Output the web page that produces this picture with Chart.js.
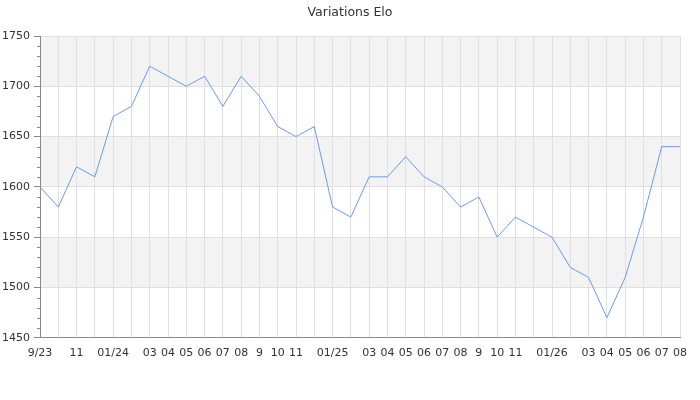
<!DOCTYPE html>
<html>
<head>
<meta charset="utf-8">
<script src="https://cdn.jsdelivr.net/npm/chart.js@4/dist/chart.umd.min.js"></script>
<style>
  html, body { margin: 0; padding: 0; background: #fff; }
  #wrap { width: 700px; height: 400px; }
</style>
</head>
<body>
<div id="wrap"><canvas id="myChart"></canvas></div>
<script>
// months from 9/23 to 08/26
const months = ["9/23","10/23","11/23","12/23","01/24","02/24","03/24","04/24","05/24","06/24","07/24","08/24",
  "09/24","10/24","11/24","12/24","01/25","02/25","03/25","04/25","05/25","06/25","07/25","08/25",
  "09/25","10/25","11/25","12/25","01/26","02/26","03/26","04/26","05/26","06/26","07/26","08/26"];
const tickLabels = ["9/23","","11","","01/24","","03","04","05","06","07","08",
  "9","10","11","","01/25","","03","04","05","06","07","08",
  "9","10","11","","01/26","","03","04","05","06","07","08"];
const elo = [1600,1580,1620,1610,1670,1680,1720,1710,1700,1710,1680,1710,
  1690,1660,1650,1660,1580,1570,1610,1610,1630,1610,1600,1580,
  1590,1550,1570,1560,1550,1520,1510,1470,1510,1570,1640,1640];
const yMin = 1450, yMax = 1750;
const grayBands = [[1500,1550],[1600,1650],[1700,1750]];

const bandsPlugin = {
  id: 'bands',
  beforeDraw(chart) {
    const {ctx, chartArea, scales} = chart;
    ctx.save();
    ctx.fillStyle = '#f3f3f3';
    grayBands.forEach(b => {
      const top = scales.y.getPixelForValue(b[1]);
      const bot = scales.y.getPixelForValue(b[0]);
      ctx.fillRect(chartArea.left, top, chartArea.right - chartArea.left, bot - top);
    });
    ctx.restore();
  },
  afterDraw(chart) {
    // short minor ticks on the y axis
    const {ctx, scales} = chart;
    const x = scales.y.right;
    ctx.save();
    ctx.strokeStyle = '#888';
    ctx.lineWidth = 1;
    for (let v = yMin; v <= yMax; v += 10) {
      if (v % 50 === 0) continue;
      const y = Math.round(scales.y.getPixelForValue(v)) + 0.5;
      ctx.beginPath();
      ctx.moveTo(x - 3, y);
      ctx.lineTo(x, y);
      ctx.stroke();
    }
    ctx.restore();
  }
};

new Chart(document.getElementById('myChart'), {
  type: 'line',
  data: {
    labels: months,
    datasets: [{
      label: 'Elo',
      data: elo,
      borderColor: '#6b9bf2',
      borderWidth: 1,
      pointRadius: 0,
      tension: 0,
      fill: false
    }]
  },
  options: {
    responsive: true,
    maintainAspectRatio: false,
    animation: false,
    layout: { padding: { left: 0, right: 0, top: 5, bottom: 31 } },
    plugins: {
      legend: { display: false },
      tooltip: { enabled: false },
      title: {
        display: true,
        text: 'Variations Elo',
        color: '#333',
        font: { family: 'DejaVu Sans', size: 12.5, weight: 'normal' },
        padding: { top: 0, bottom: 16 }
      }
    },
    scales: {
      x: {
        offset: false,
        border: { color: '#888' },
        grid: { color: '#e0e0e0', drawTicks: false },
        ticks: {
          autoSkip: false,
          maxRotation: 0,
          padding: 9,
          color: '#333',
          font: { family: 'DejaVu Sans', size: 11 },
          callback: (val, i) => tickLabels[i]
        }
      },
      y: {
        min: yMin,
        max: yMax,
        border: { color: '#888' },
        afterFit: (scale) => { scale.width = 40; },
        grid: {
          color: ctx => (ctx.tick && ctx.tick.value % 50 === 0) ? '#e0e0e0' : 'rgba(0,0,0,0)',
          tickColor: ctx => (ctx.tick && ctx.tick.value % 50 === 0) ? '#888' : 'rgba(0,0,0,0)',
          tickLength: 6
        },
        ticks: {
          stepSize: 10,
          autoSkip: false,
          padding: 4,
          color: '#333',
          font: { family: 'DejaVu Sans', size: 11 },
          callback: v => (v % 50 === 0 ? v : '')
        }
      },
      // empty spacer on the right so the title stays centred on the page
      yRight: {
        position: 'right',
        min: yMin,
        max: yMax,
        border: { display: false },
        grid: { display: false },
        ticks: { display: false },
        afterFit: (scale) => { scale.width = 20; }
      }
    }
  },
  plugins: [bandsPlugin]
});
</script>
</body>
</html>
